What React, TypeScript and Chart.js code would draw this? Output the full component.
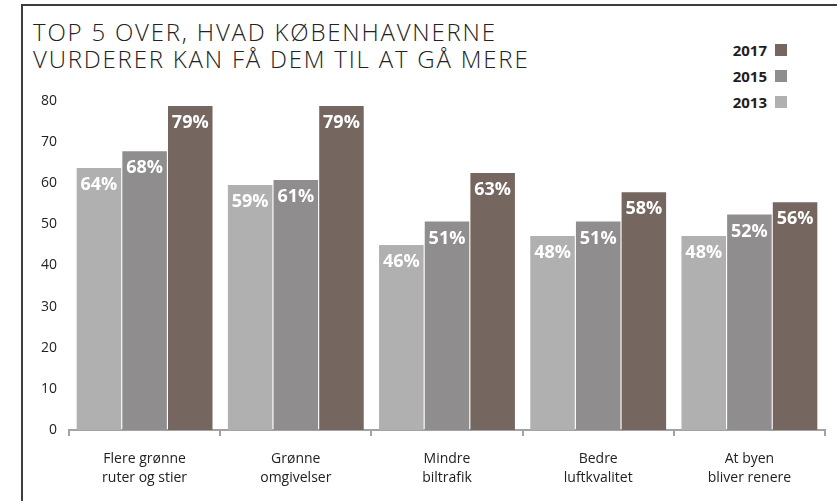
import React, { useEffect, useRef } from "react";
import { Chart, registerables } from "chart.js";

Chart.register(...registerables);

const categories: string[][] = [
  ["Flere grønne", "ruter og stier"],
  ["Grønne", "omgivelser"],
  ["Mindre", "biltrafik"],
  ["Bedre", "luftkvalitet"],
  ["At byen", "bliver renere"],
];

const values2013 = [63.7, 59.6, 45, 47.2, 47.2];
const values2015 = [67.8, 60.8, 50.7, 50.7, 52.4];
const values2017 = [78.8, 78.8, 62.5, 57.8, 55.4];

const labels2013 = ["64%", "59%", "46%", "48%", "48%"];
const labels2015 = ["68%", "61%", "51%", "51%", "52%"];
const labels2017 = ["79%", "79%", "63%", "58%", "56%"];

const yTicks = [0, 10, 20, 30, 40, 50, 60, 70, 80];

const titleLines = ["TOP 5 OVER, HVAD KØBENHAVNERNE", "VURDERER KAN FÅ DEM TIL AT GÅ MERE"];

const series = [
  { name: "2013", values: values2013, labels: labels2013, color: "#b1b0b1" },
  { name: "2015", values: values2015, labels: labels2015, color: "#8f8d8e" },
  { name: "2017", values: values2017, labels: labels2017, color: "#756760" },
];

const FONT = "'Open Sans', 'DejaVu Sans', sans-serif";

const valueLabelPlugin = {
  id: "valueLabels",
  afterDatasetsDraw(chart: any) {
    const ctx = chart.ctx;
    ctx.save();
    ctx.fillStyle = "#ffffff";
    ctx.font = `bold 18px ${FONT}`;
    ctx.textAlign = "center";
    ctx.textBaseline = "middle";
    chart.data.datasets.forEach((ds: any, di: number) => {
      const meta = chart.getDatasetMeta(di);
      meta.data.forEach((bar: any, i: number) => {
        ctx.fillText(ds.valueLabels[i], bar.x, bar.y + 17);
      });
    });
    ctx.restore();
  },
};

export default function App() {
  const canvasRef = useRef<HTMLCanvasElement | null>(null);

  useEffect(() => {
    document.body.style.margin = "0";
    const canvas = canvasRef.current;
    if (!canvas) return;
    const chart = new Chart(canvas, {
      type: "bar",
      data: {
        labels: categories,
        datasets: series.map((s) => ({
          label: s.name,
          data: s.values,
          backgroundColor: s.color,
          borderWidth: 0,
          categoryPercentage: 0.906,
          barPercentage: 0.975,
          valueLabels: s.labels,
        })) as any,
      },
      options: {
        responsive: false,
        animation: false,
        layout: { padding: { left: 0, right: 12, top: 101, bottom: 0 } },
        plugins: {
          legend: { display: false },
          title: { display: false },
          tooltip: { enabled: false },
        },
        scales: {
          x: {
            afterFit: (s: any) => {
              s.height = 71;
            },
            grid: {
              display: true,
              drawOnChartArea: false,
              drawTicks: true,
              tickLength: 6,
              color: "#a3a3a3",
              lineWidth: 2,
              offset: true,
            },
            border: { display: true, color: "#a3a3a3", width: 2 },
            ticks: {
              color: "#222222",
              padding: 14,
              font: { family: FONT, size: 14, lineHeight: 1.35 },
              maxRotation: 0,
              autoSkip: false,
            },
          },
          y: {
            min: 0,
            max: 80,
            afterFit: (s: any) => {
              s.width = 69;
            },
            afterBuildTicks: (s: any) => {
              s.ticks = yTicks.map((v) => ({ value: v }));
            },
            grid: { display: false, drawTicks: false },
            border: { display: false },
            ticks: {
              color: "#222222",
              padding: 12,
              font: { family: FONT, size: 14 },
            },
          },
        },
      },
      plugins: [valueLabelPlugin],
    });
    return () => chart.destroy();
  }, []);

  const legendItems = [...series].reverse();

  return (
    <div style={{ position: "relative", width: 837, height: 501, background: "#fff", overflow: "hidden" }}>
      <div
        style={{
          position: "absolute",
          left: 21,
          top: 4,
          width: 816,
          height: 497,
          borderTop: "2px solid #3b3b42",
          borderLeft: "2px solid #3b3b42",
          boxSizing: "border-box",
        }}
      />
      <div
        style={{
          position: "absolute",
          left: 33,
          top: 18,
          fontFamily: FONT,
          fontWeight: 300,
          fontSize: 24,
          lineHeight: "27px",
          color: "#222",
          letterSpacing: 1.8,
          whiteSpace: "nowrap",
        }}
      >
        {titleLines.map((t, i) => (
          <div key={i}>{t}</div>
        ))}
      </div>
      <div style={{ position: "absolute", right: 837 - 787, top: 37 }}>
        {legendItems.map((s) => (
          <div
            key={s.name}
            style={{ display: "flex", alignItems: "center", justifyContent: "flex-end", height: 26 }}
          >
            <span
              style={{ fontFamily: FONT, fontWeight: 700, fontSize: 15, color: "#1e1e1e", marginRight: 8 }}
            >
              {s.name}
            </span>
            <span style={{ display: "inline-block", width: 12, height: 12, background: s.color }} />
          </div>
        ))}
      </div>
      <canvas
        ref={canvasRef}
        width={837}
        height={501}
        style={{ position: "absolute", left: 0, top: 0 }}
      />
    </div>
  );
}
